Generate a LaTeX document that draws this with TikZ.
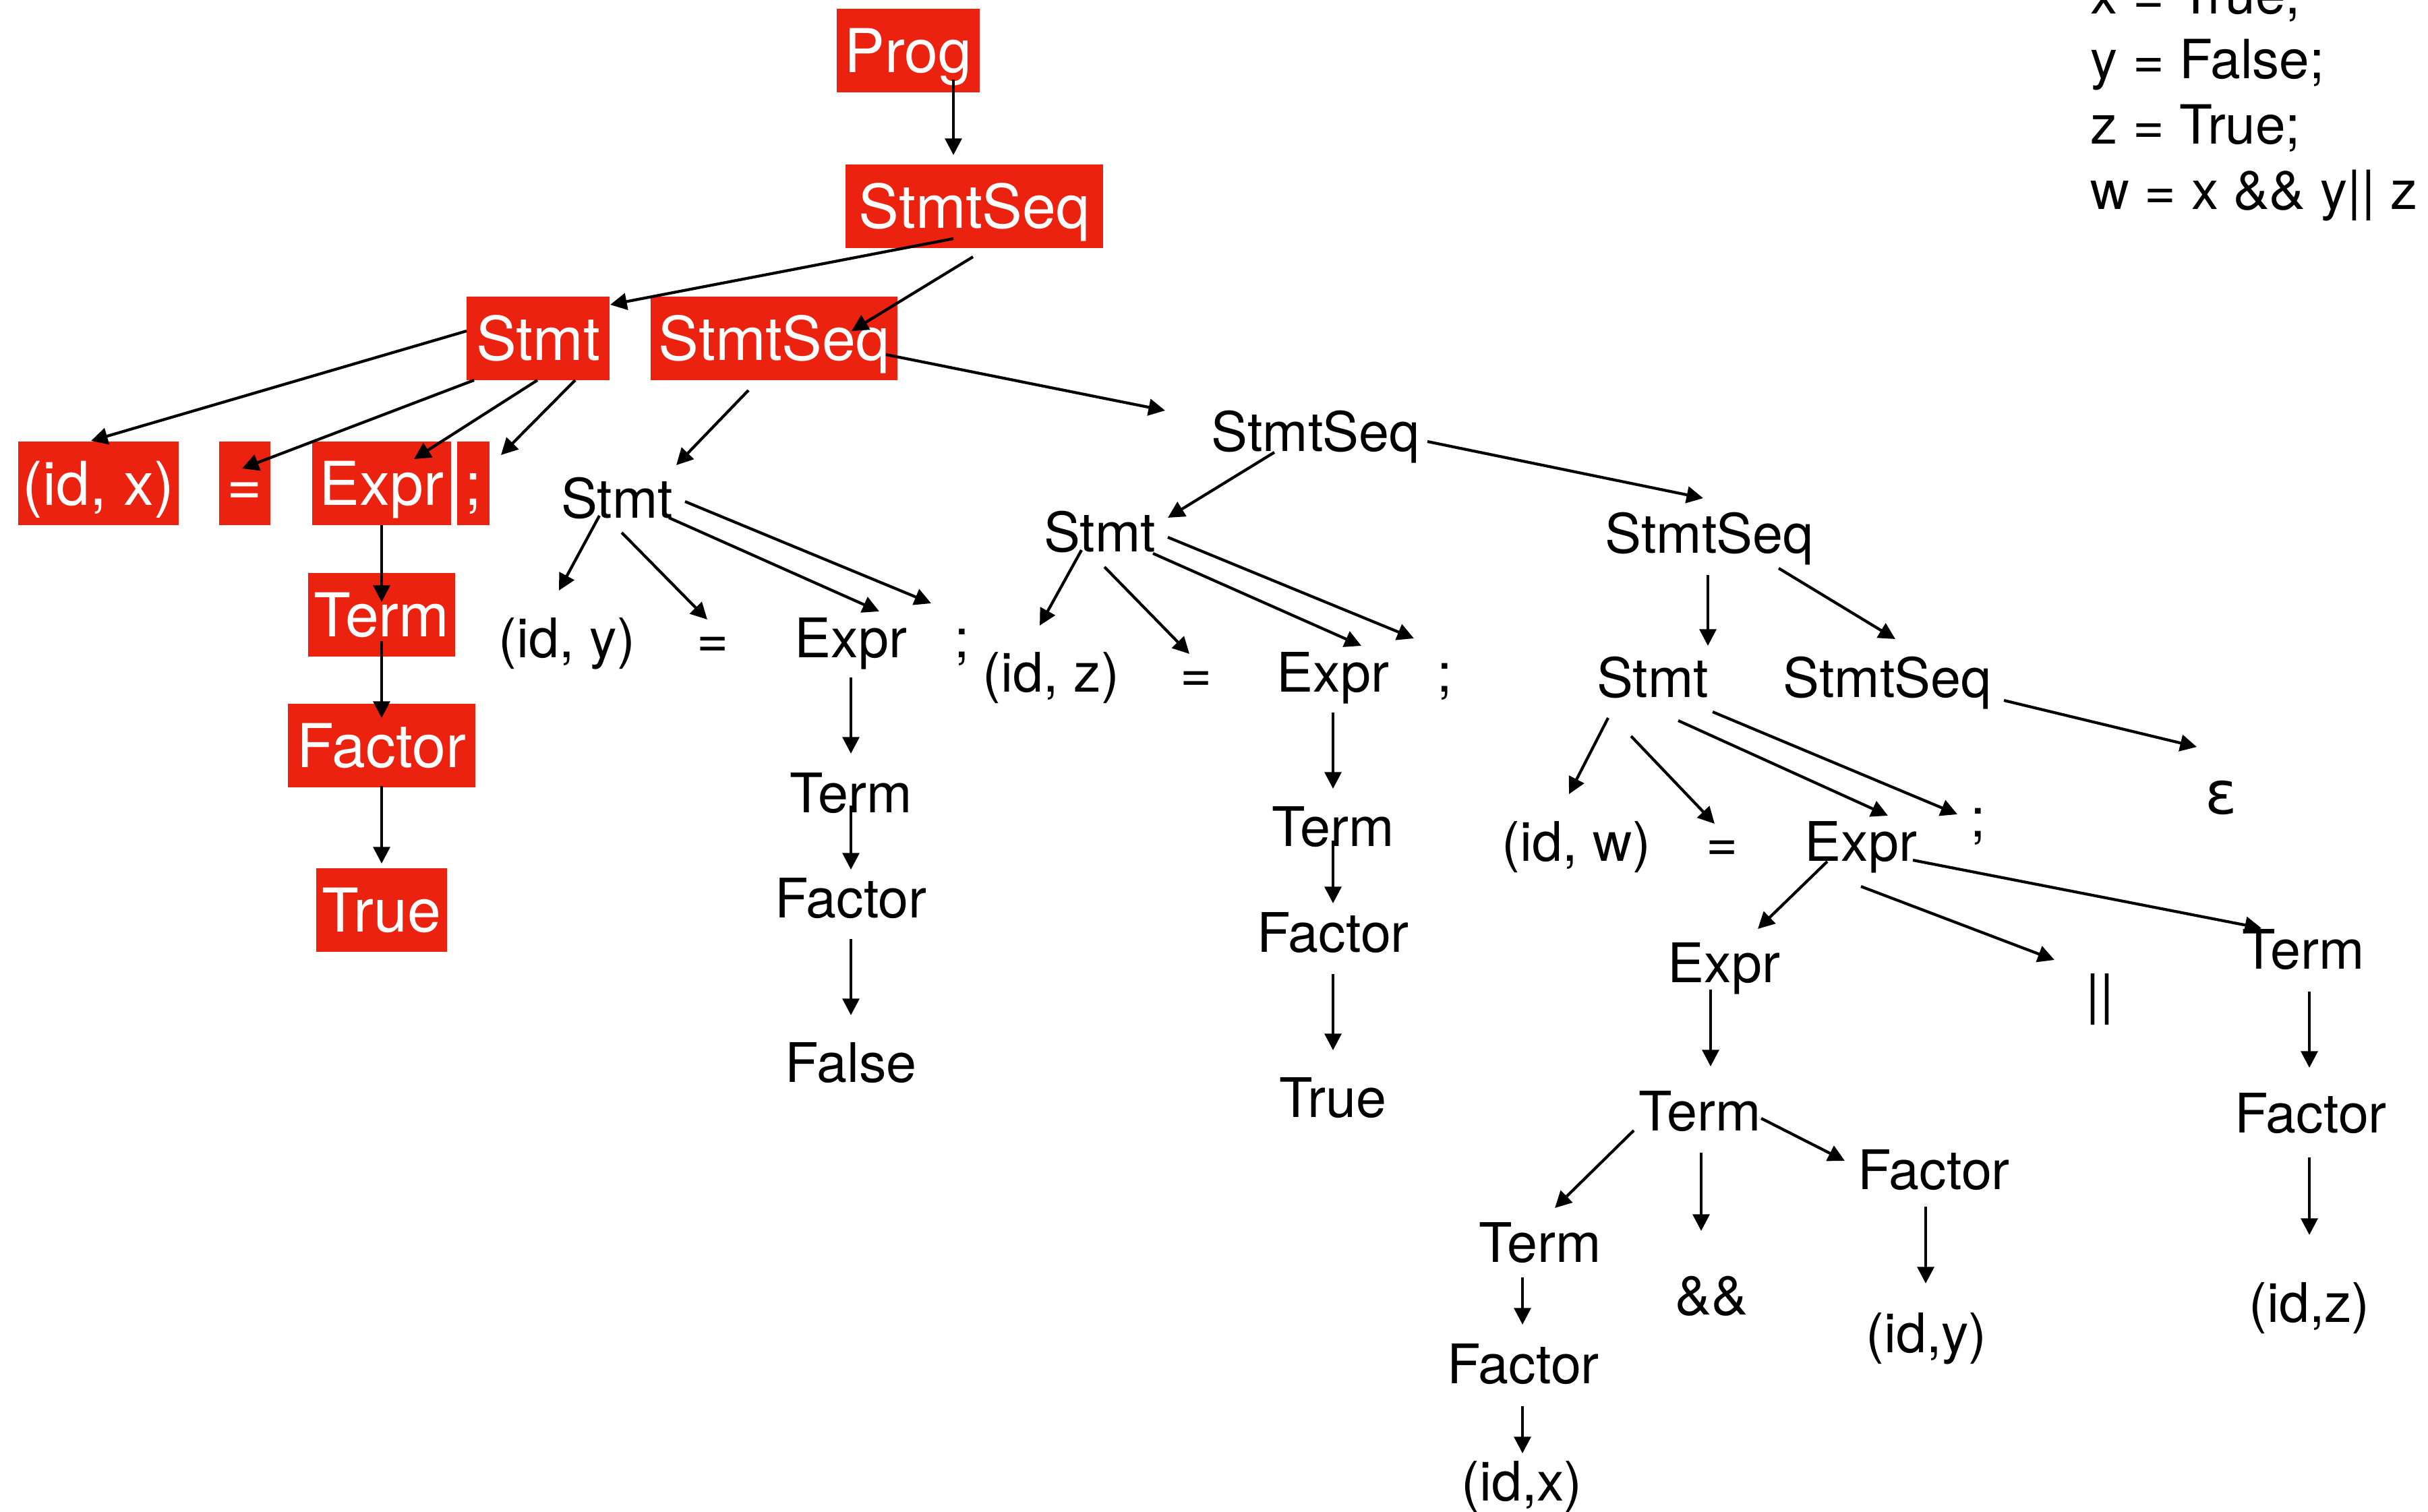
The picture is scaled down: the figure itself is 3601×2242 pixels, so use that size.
\documentclass[tikz,border=0pt]{standalone}
\usepackage{fontspec}
\setmainfont{TeX Gyre Heros}
\newfontfamily\epsfont{DejaVu Sans}
\usetikzlibrary{arrows.meta,calc}
\definecolor{boxred}{RGB}{236,34,16}
\tikzset{
  redsym/.style={fill=boxred,text=white,font=\fontsize{25.5}{30}\selectfont,
    text height=18.3pt,text depth=0pt,inner ysep=0pt,inner xsep=2pt,minimum height=1.23cm},
  sym/.style={font=\fontsize{23}{28}\selectfont,text height=16.5pt,text depth=0pt,inner sep=0pt},
  codeline/.style={font=\fontsize{22.8}{27}\selectfont,anchor=base west,inner sep=0pt},
  arr/.style={-{Triangle[length=7pt,width=7pt]},line width=1.2pt}
}
\begin{document}
\begin{tikzpicture}[x=0.01cm,y=-0.01cm]
    \useasboundingbox (0,0) rectangle (3601,2242);
    \node[codeline] (code1) at (3100,20) {x = True;};
    \node[codeline] (code2) at (3100,116.5) {y = False;};
    \node[codeline] (code3) at (3100,213.5) {z = True;};
    \node[codeline] (code4) at (3100,310) {w = x \&\& y|| z};
    \node[redsym,minimum width=2.11cm] (prog) at (1347,75) {Prog};
    \node[redsym,minimum width=3.82cm] (seqA) at (1445,306) {StmtSeq};
    \node[redsym,minimum width=2.12cm] (stmtX) at (798,502) {Stmt};
    \node[redsym,minimum width=3.65cm] (seqB) at (1148,502) {StmtSeq};
    \node[redsym,minimum width=2.37cm] (idX) at (146,717) {(id, x)};
    \node[redsym,minimum width=0.76cm] (eqX) at (363,717) {=};
    \node[redsym,minimum width=2.06cm] (exprX) at (566,717) {Expr};
    \node[redsym,minimum width=0.47cm] (semiX) at (702,717) {;};
    \node[redsym,minimum width=2.17cm] (termX) at (566,912) {Term};
    \node[redsym,minimum width=2.78cm] (factX) at (566,1106) {Factor};
    \node[redsym,minimum width=1.94cm] (trueX) at (566,1350) {True};
    \node[sym] (seqC) at (1951,640) {StmtSeq};
    \node[sym] (stmtY) at (915,739) {Stmt};
    \node[sym] (idY) at (841,946) {(id, y)};
    \node[sym] (eqY) at (1057,946) {=};
    \node[sym] (exprY) at (1262,946) {Expr};
    \node[sym] (semiY) at (1427,946) {;};
    \node[sym] (termY) at (1262,1176) {Term};
    \node[sym] (factY) at (1262,1332) {Factor};
    \node[sym] (falseY) at (1262,1576) {False};
    \node[sym] (stmtZ) at (1631,789) {Stmt};
    \node[sym] (idZ) at (1559,997) {(id, z)};
    \node[sym] (eqZ) at (1774,997) {=};
    \node[sym] (exprZ) at (1977,997) {Expr};
    \node[sym] (semiZ) at (2143,997) {;};
    \node[sym] (termZ) at (1977,1226) {Term};
    \node[sym] (factZ) at (1977,1383) {Factor};
    \node[sym] (trueZ) at (1977,1628) {True};
    \node[sym] (seqD) at (2535,791) {StmtSeq};
    \node[sym] (stmtW) at (2451,1005) {Stmt};
    \node[sym] (seqE) at (2799,1005) {StmtSeq};
    \node[sym,font=\epsfont\fontsize{25}{30}\selectfont,text height=13.7pt] (eps) at (3294,1183) {ε};
    \node[sym] (idW) at (2338,1248) {(id, w)};
    \node[sym] (eqW) at (2554,1248) {=};
    \node[sym] (exprW) at (2760,1248) {Expr};
    \node[sym] (semiW) at (2934,1212) {;};
    \node[sym] (exprV) at (2557,1428) {Expr};
    \node[sym] (orW) at (3114,1474) {||};
    \node[sym] (termR) at (3416,1408) {Term};
    \node[sym] (factR) at (3427,1651) {Factor};
    \node[sym] (idZb) at (3425,1932) {(id,z)};
    \node[sym] (termM) at (2521,1648) {Term};
    \node[sym] (factM) at (2868,1735) {Factor};
    \node[sym] (andM) at (2538,1921) {\&\&};
    \node[sym] (idYb) at (2857,1977) {(id,y)};
    \node[sym] (termL) at (2284,1843) {Term};
    \node[sym] (factL) at (2259,2023) {Factor};
    \node[sym] (idXb) at (2257,2197) {(id,x)};
    \draw[arr] ($(prog)+(67,43)$) -- ($(seqA)+(-31,-76)$);
    \draw[arr] ($(seqA)+(-31,48)$) -- ($(stmtX)+(107,-50)$);
    \draw[arr] ($(seqA)+(-2,75)$) -- ($(seqB)+(115,-11)$);
    \draw[arr] ($(stmtX)+(-106,-11)$) -- ($(idX)+(-11,-63)$);
    \draw[arr] ($(stmtX)+(-95,62)$) -- ($(eqX)+(-4,-22)$);
    \draw[arr] ($(stmtX)+(-1,62)$) -- ($(exprX)+(48,-36)$);
    \draw[arr] ($(stmtX)+(55,62)$) -- ($(semiX)+(41,-42)$);
    \draw[arr] ($(seqB)+(-38,77)$) -- ($(stmtY)+(88,-49)$);
    \draw[arr] ($(seqB)+(166,24)$) -- ($(seqC)+(-223,-31)$);
    \draw[arr] ($(exprX)+(0,62)$) -- ($(termX)+(0,-19)$);
    \draw[arr] ($(termX)+(0,39)$) -- ($(factX)+(0,-41)$);
    \draw[arr] ($(factX)+(0,60)$) -- ($(trueX)+(0,-69)$);
    \draw[arr] ($(stmtY)+(-26,26)$) -- ($(idY)+(-12,-70)$);
    \draw[arr] ($(stmtY)+(7,51)$) -- ($(eqY)+(-8,-27)$);
    \draw[arr] ($(stmtY)+(77,29)$) -- ($(exprY)+(42,-39)$);
    \draw[arr] ($(stmtY)+(101,5)$) -- ($(semiY)+(-46,-51)$);
    \draw[arr] ($(exprY)+(0,59)$) -- ($(termY)+(0,-58)$);
    \draw[arr] ($(termY)+(0,19)$) -- ($(factY)+(0,-42)$);
    \draw[arr] ($(factY)+(0,61)$) -- ($(falseY)+(0,-70)$);
    \draw[arr] ($(seqC)+(-61,31)$) -- ($(stmtZ)+(101,-21)$);
    \draw[arr] ($(stmtZ)+(-27,27)$) -- ($(idZ)+(-17,-69)$);
    \draw[arr] ($(stmtZ)+(7,52)$) -- ($(eqZ)+(-10,-27)$);
    \draw[arr] ($(stmtZ)+(79,32)$) -- ($(exprZ)+(42,-39)$);
    \draw[arr] ($(stmtZ)+(101,8)$) -- ($(semiZ)+(-46,-50)$);
    \draw[arr] ($(exprZ)+(0,60)$) -- ($(termZ)+(0,-56)$);
    \draw[arr] ($(termZ)+(0,21)$) -- ($(factZ)+(0,-43)$);
    \draw[arr] ($(factZ)+(0,62)$) -- ($(trueZ)+(0,-70)$);
    \draw[arr] ($(seqC)+(166,15)$) -- ($(seqD)+(-9,-52)$);
    \draw[arr] ($(seqD)+(-2,62)$) -- ($(stmtW)+(82,-47)$);
    \draw[arr] ($(seqD)+(103,52)$) -- ($(seqE)+(12,-57)$);
    \draw[arr] ($(seqE)+(173,34)$) -- ($(eps)+(-36,-75)$);
    \draw[arr] ($(stmtW)+(-66,60)$) -- ($(idW)+(-11,-70)$);
    \draw[arr] ($(stmtW)+(-32,87)$) -- ($(eqW)+(-11,-26)$);
    \draw[arr] ($(stmtW)+(38,64)$) -- ($(exprW)+(40,-38)$);
    \draw[arr] ($(stmtW)+(89,51)$) -- ($(semiW)+(-31,-4)$);
    \draw[arr] ($(exprW)+(-50,30)$) -- ($(exprV)+(50,-50)$);
    \draw[arr] ($(exprW)+(0,67)$) -- ($(orW)+(-67,-50)$);
    \draw[arr] ($(exprW)+(77,28)$) -- ($(termR)+(-62,-31)$);
    \draw[arr] ($(exprV)+(-20,40)$) -- ($(termM)+(16,-66)$);
    \draw[arr] ($(termR)+(9,63)$) -- ($(factR)+(-2,-67)$);
    \draw[arr] ($(factR)+(-2,66)$) -- ($(idZb)+(0,-100)$);
    \draw[arr] ($(termM)+(-98,29)$) -- ($(termL)+(22,-51)$);
    \draw[arr] ($(termM)+(2,62)$) -- ($(andM)+(-15,-95)$);
    \draw[arr] ($(termM)+(91,11)$) -- ($(factM)+(-132,-13)$);
    \draw[arr] ($(factM)+(-12,55)$) -- ($(idYb)+(-1,-73)$);
    \draw[arr] ($(termL)+(-26,52)$) -- ($(factL)+(-1,-58)$);
    \draw[arr] ($(factL)+(-1,63)$) -- ($(idXb)+(1,-41)$);
\end{tikzpicture}
\end{document}
